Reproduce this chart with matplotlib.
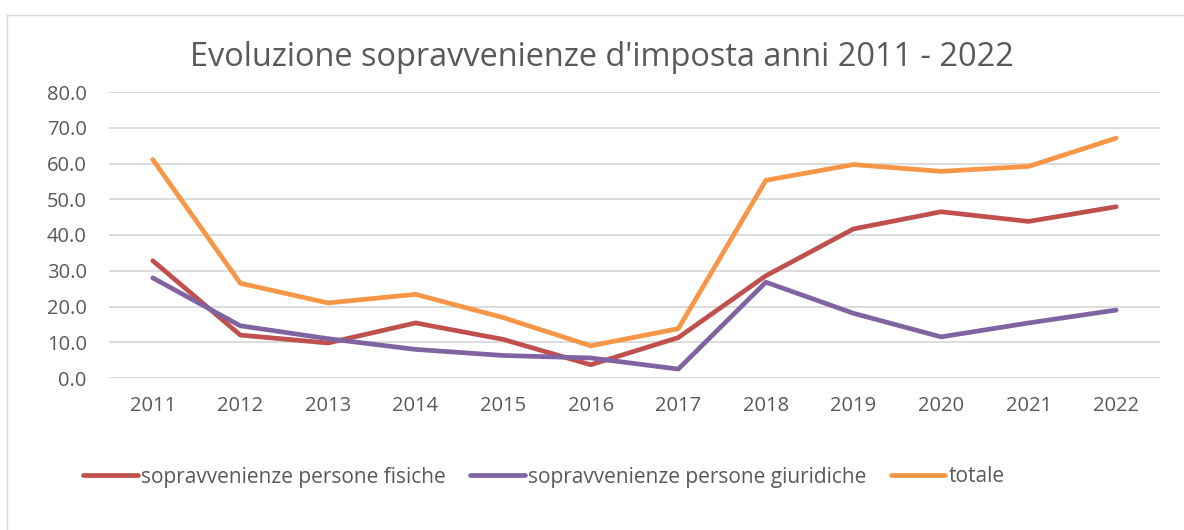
import matplotlib
matplotlib.use("Agg")
import matplotlib.pyplot as plt
from matplotlib.lines import Line2D

plt.rcParams['font.family'] = ['Open Sans', 'DejaVu Sans']

years = ['2011', '2012', '2013', '2014', '2015', '2016', '2017', '2018', '2019', '2020', '2021', '2022']
fisiche = [32.8, 12.0, 9.8, 15.4, 10.8, 3.7, 11.3, 28.6, 41.7, 46.5, 43.8, 47.9]
giuridiche = [28.0, 14.6, 11.0, 8.0, 6.3, 5.6, 2.5, 26.8, 18.1, 11.5, 15.4, 19.0]
totale = [61.1, 26.5, 21.0, 23.4, 16.9, 9.0, 13.8, 55.3, 59.7, 57.8, 59.2, 67.1]
labels = ['sopravvenienze persone fisiche', 'sopravvenienze persone giuridiche', 'totale']
title = "Evoluzione sopravvenienze d'imposta anni 2011 - 2022"

W, H = 1184, 530
fig = plt.figure(figsize=(W / 100, H / 100), dpi=100)
ax = fig.add_axes([109 / W, 1 - 378 / H, (1160 - 109) / W, (378 - 92) / H])

txt = '#595959'
colors = ['#C0504D', '#8064A2', '#F79646']
x = range(len(years))
for vals, c, lab in zip([fisiche, giuridiche, totale], colors, labels):
    ax.plot(x, vals, color=c, lw=3.4, solid_capstyle='round', solid_joinstyle='round', label=lab)

ax.set_xlim(-0.5, len(years) - 0.5)
ax.set_ylim(0, 80)
ax.set_yticks(range(0, 81, 10))
ax.set_yticklabels([f'{v:.1f}' for v in range(0, 81, 10)])
ax.set_xticks(list(x))
ax.set_xticklabels(years)
ax.grid(axis='y', color='#D9D9D9', lw=1.3)
ax.set_axisbelow(True)
for s in ax.spines.values():
    s.set_visible(False)
ax.tick_params(axis='both', length=0, labelsize=14.5, labelcolor=txt)
ax.tick_params(axis='x', pad=13)
ax.tick_params(axis='y', pad=16)

fig.text(602 / W, 1 - 57 / H, title, ha='center', va='center', fontsize=23.4, color=txt)

fig.legend(loc='center', bbox_to_anchor=(544 / W, 1 - 477 / H), ncol=3, frameon=False,
           fontsize=15, labelcolor=txt, handlelength=2.6, handletextpad=0.15,
           columnspacing=1.2)

# chart border (left/top visible)
fig.add_artist(Line2D([7 / W, 7 / W], [0, 1 - 15 / H], color='#D9D9D9', lw=1))
fig.add_artist(Line2D([7 / W, 1], [1 - 15 / H, 1 - 15 / H], color='#D9D9D9', lw=1))

fig.savefig('out.png', dpi=100, facecolor='white')
